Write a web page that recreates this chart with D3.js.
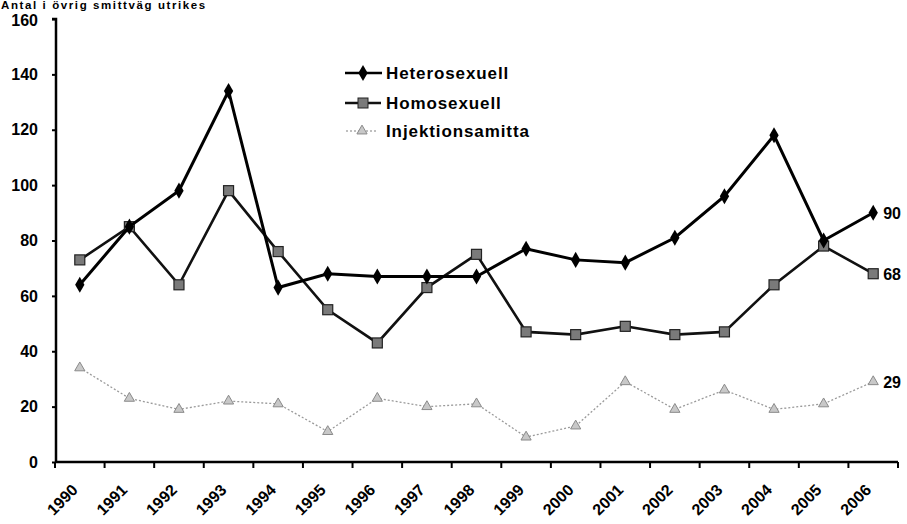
<!DOCTYPE html>
<html><head><meta charset="utf-8">
<script src="https://cdn.jsdelivr.net/npm/d3@7"></script>
<style>body{margin:0;background:#fff}svg{display:block;font-family:Arial,"Liberation Sans",sans-serif}</style>
</head><body><svg id="c" width="907" height="524"></svg>
<script>
const years = ["1990","1991","1992","1993","1994","1995","1996","1997","1998","1999","2000","2001","2002","2003","2004","2005","2006"];
const hetero = [64,85,98,134,63,68,67,67,67,77,73,72,81,96,118,80,90];
const homo   = [73,85,64,98,76,55,43,63,75,47,46,49,46,47,64,78,68];
const inj    = [34,23,19,22,21,11,23,20,21,9,13,29,19,26,19,21,29];
const seriesNames = ["Heterosexuell","Homosexuell","Injektionsamitta"];
const yTicks = [0,20,40,60,80,100,120,140,160];
const titleText = "Antal i övrig smittväg utrikes";

const svg = d3.select("#c");
const x = d3.scaleBand().domain(years).range([55, 898]);
const y = d3.scaleLinear().domain([0,160]).range([462, 19]);

// title
svg.append("text").attr("x",1).attr("y",9).attr("font-size",11.5).attr("font-weight","bold")
  .attr("letter-spacing",1.6).text(titleText);

// y axis
const ya = svg.append("g").attr("transform","translate(56,0)")
  .call(d3.axisLeft(y).tickValues(yTicks).tickSize(4).tickPadding(14));
ya.select(".domain").attr("stroke","#000").attr("stroke-width",2.5).attr("d","M-4,19H0V462");
ya.selectAll(".tick line").attr("stroke","#000").attr("stroke-width",2);
ya.selectAll("text").attr("font-size",16).attr("font-weight","bold").attr("fill","#000");
ya.selectAll(".tick").filter(d => d === 160).select("text").attr("dy","0.42em");

// x axis
const xa = svg.append("g").attr("transform","translate(0,462)")
  .call(d3.axisBottom(x).tickSize(0).tickFormat(""));
xa.select(".domain").attr("stroke","#000").attr("stroke-width",2.5).attr("d","M55,0H898");
const bounds = years.map(d => x(d)).concat([x.range()[1]]);
xa.selectAll(".bt").data(bounds).enter().append("line").attr("class","bt")
  .attr("x1",d=>d).attr("x2",d=>d).attr("y1",0).attr("y2",6).attr("stroke","#000").attr("stroke-width",2);
svg.append("g").selectAll("text").data(years).enter().append("text")
  .attr("text-anchor","end").attr("font-size",16).attr("font-weight","bold")
  .attr("transform", d => `translate(${x(d)+x.bandwidth()/2-1},491) rotate(-45)`)
  .text(d=>d);

const cx = d => x(d) + x.bandwidth()/2;
const line = d3.line().x((v,i)=>cx(years[i])).y(v=>y(v));

// injection series
svg.append("path").datum(inj).attr("d",line).attr("fill","none")
  .attr("stroke","#9a9a9a").attr("stroke-width",1.3).attr("stroke-dasharray","2,2");
svg.append("g").selectAll("path").data(inj).enter().append("path")
  .attr("d", d3.symbol().type(d3.symbolTriangle).size(45))
  .attr("transform",(v,i)=>`translate(${cx(years[i])},${y(v)})`)
  .attr("fill","#c8c8c8").attr("stroke","#8a8a8a").attr("stroke-width",1);

// homo series
svg.append("path").datum(homo).attr("d",line).attr("fill","none")
  .attr("stroke","#111").attr("stroke-width",2.6);
svg.append("g").selectAll("rect").data(homo).enter().append("rect")
  .attr("x",(v,i)=>cx(years[i])-5).attr("y",v=>y(v)-5).attr("width",10).attr("height",10)
  .attr("fill","#7a7a7a").attr("stroke","#222").attr("stroke-width",1.2);

// hetero series
svg.append("path").datum(hetero).attr("d",line).attr("fill","none")
  .attr("stroke","#000").attr("stroke-width",3);
svg.append("g").selectAll("path").data(hetero).enter().append("path")
  .attr("d", d3.symbol().type(d3.symbolDiamond).size(75))
  .attr("transform",(v,i)=>`translate(${cx(years[i])},${y(v)})`)
  .attr("fill","#000");

// end labels
const last = years.length-1;
[hetero,homo,inj].forEach(s => {
  svg.append("text").attr("x", cx(years[last])+10).attr("y", y(s[last])+6)
    .attr("font-size",16).attr("font-weight","bold").text(s[last]);
});

// legend
const lg = svg.append("g");
const rows = [73,103,131];
seriesNames.forEach((n,i)=>{
  const g = lg.append("g").attr("transform",`translate(0,${rows[i]})`);
  if(i===0){
    g.append("line").attr("x1",345).attr("x2",382).attr("stroke","#000").attr("stroke-width",2.5);
    g.append("path").attr("d",d3.symbol().type(d3.symbolDiamond).size(75)).attr("transform","translate(363,0)").attr("fill","#000");
  } else if(i===1){
    g.append("line").attr("x1",345).attr("x2",381).attr("stroke","#111").attr("stroke-width",2.5);
    g.append("rect").attr("x",358).attr("y",-5).attr("width",10).attr("height",10).attr("fill","#7a7a7a").attr("stroke","#222");
  } else {
    g.append("line").attr("x1",346).attr("x2",378).attr("stroke","#aaa").attr("stroke-width",1.3).attr("stroke-dasharray","2,2");
    g.append("path").attr("d",d3.symbol().type(d3.symbolTriangle).size(45)).attr("transform","translate(362,0)").attr("fill","#c8c8c8").attr("stroke","#8a8a8a");
  }
  g.append("text").attr("x",386).attr("y",6).attr("font-size",17).attr("font-weight","bold")
    .attr("letter-spacing",0.9).text(n);
});
</script></body></html>
